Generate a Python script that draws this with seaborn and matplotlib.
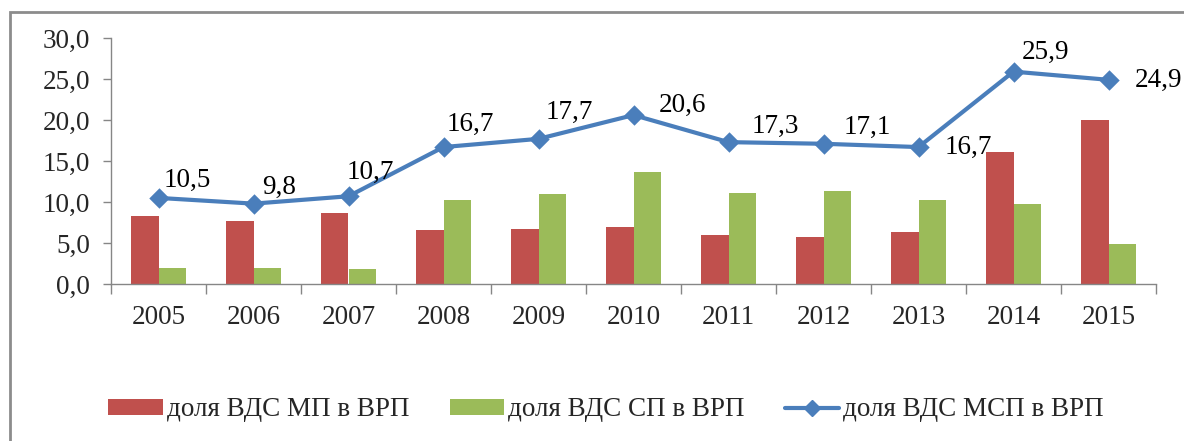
import numpy as np
import pandas as pd
import seaborn as sns
import matplotlib.pyplot as plt
from matplotlib.patches import Rectangle, Patch
from matplotlib.lines import Line2D

# data
years = ["2005", "2006", "2007", "2008", "2009", "2010", "2011", "2012", "2013", "2014", "2015"]
mp_share = [8.3, 7.7, 8.6, 6.6, 6.7, 6.9, 6.0, 5.7, 6.3, 16.1, 20.0]
sp_share = [2.0, 2.0, 1.8, 10.2, 11.0, 13.6, 11.1, 11.3, 10.2, 9.7, 4.9]
msp_share = [10.5, 9.8, 10.7, 16.7, 17.7, 20.6, 17.3, 17.1, 16.7, 25.9, 24.9]
series_names = ["доля ВДС МП в ВРП", "доля ВДС СП в ВРП", "доля ВДС МСП в ВРП"]
y_ticks = [0, 5, 10, 15, 20, 25, 30]

# label offsets (pixels) for the line's data labels, like excel placed them
label_dx = [5, 9, -2, 3, 7, 25, 23, 20, 26, 8, 26]
label_dy = [17, 16, 24, 23, 26, 10, 16, 16, 0, 19, -1]

red = "#C0504D"
green = "#9BBB59"
blue = "#4A7EBB"
grey = "#868686"
fs = 19.5

sns.set_style("white")
plt.rcParams["font.family"] = ["Liberation Serif", "DejaVu Serif"]

df = pd.DataFrame({
    "year": years * 2,
    "value": mp_share + sp_share,
    "series": [series_names[0]] * len(years) + [series_names[1]] * len(years),
})

fig = plt.figure(figsize=(11.84, 4.41), dpi=100)
ax = fig.add_axes([111 / 1184, 1 - 284 / 441, (1156 - 111) / 1184, (284 - 38) / 441])

sns.barplot(data=df, x="year", y="value", hue="series", order=years,
            palette=[red, green], width=0.57, linewidth=0, saturation=1,
            legend=False, ax=ax)

sns.pointplot(x=years, y=msp_share, order=years, color=blue, marker="D",
              markersize=8, linewidth=3, errorbar=None, ax=ax)

for i, v in enumerate(msp_share):
    ax.annotate(f"{v:.1f}".replace(".", ","), (i, v),
                xytext=(label_dx[i], label_dy[i]), textcoords="offset pixels",
                ha="left", va="center", fontsize=fs, color="black")

ax.set_ylim(0, 30)
ax.set_xlim(-0.5, len(years) - 0.5)
ax.set_yticks(y_ticks)
ax.set_yticklabels([f"{t:.1f}".replace(".", ",") for t in y_ticks], fontsize=fs)

# category boundaries as major ticks, year labels on minor ticks
ax.set_xticks(np.arange(-0.5, len(years), 1.0))
ax.set_xticklabels([])
ax.set_xticks(range(len(years)), minor=True)
ax.set_xticklabels(years, minor=True, fontsize=fs)
ax.tick_params(axis="x", which="major", length=7, width=1, color=grey, bottom=True)
ax.tick_params(axis="x", which="minor", length=0, pad=15)
ax.tick_params(axis="y", length=6, width=1, color=grey, left=True, pad=9)
ax.set_xlabel("")
ax.set_ylabel("")

for side in ["top", "right"]:
    ax.spines[side].set_visible(False)
for side in ["left", "bottom"]:
    ax.spines[side].set_color(grey)
    ax.spines[side].set_linewidth(1)

handles = [
    Patch(facecolor=red, edgecolor="none"),
    Patch(facecolor=green, edgecolor="none"),
    Line2D([0], [0], color=blue, lw=3, marker="D", markersize=8),
]
fig.legend(handles, series_names, loc="center", bbox_to_anchor=(0.512, 1 - 410 / 441),
           ncol=3, frameon=False, fontsize=fs, handlelength=2.0, handleheight=0.55,
           handletextpad=0.15, columnspacing=1.5)

# outer chart-area border (cut off at right and bottom in the reference)
fig.patches.append(Rectangle((10 / 1184, -0.1), 1.2, 1 - 12 / 441 + 0.1,
                             transform=fig.transFigure, fill=False,
                             edgecolor="#8C8C8C", linewidth=2))

fig.savefig("out.png", dpi=100)
